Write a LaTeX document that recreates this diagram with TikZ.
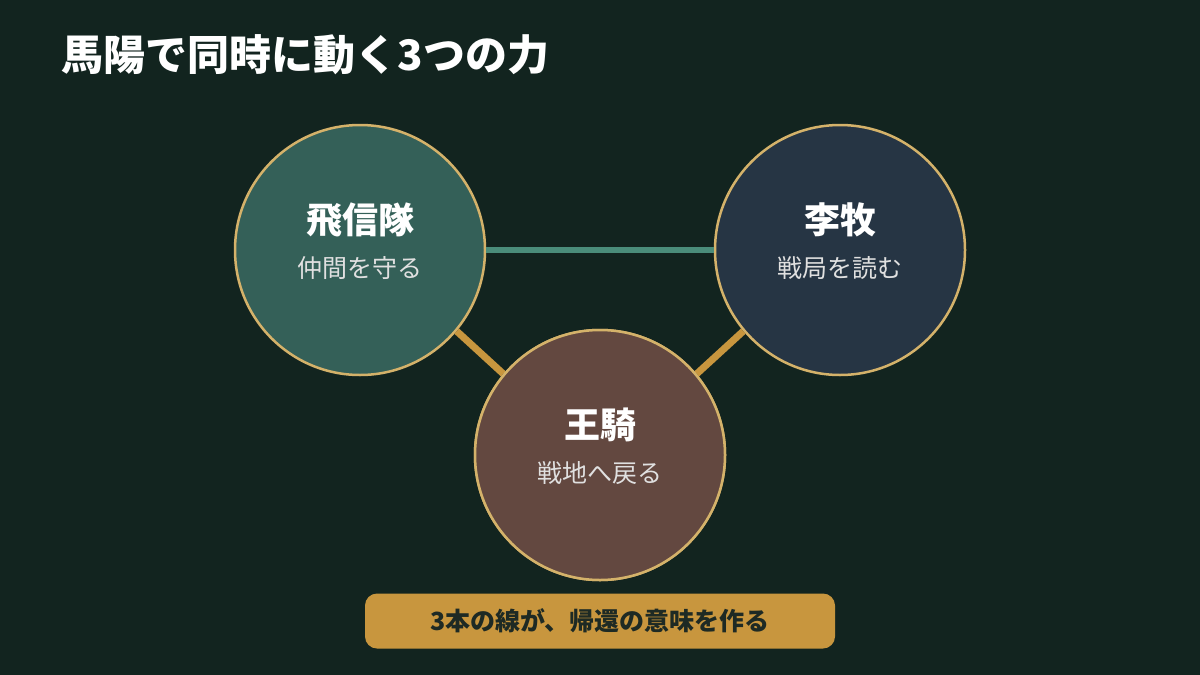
\documentclass[tikz,border=0pt]{standalone}
\usepackage{fontspec}
\newfontfamily\cjk{Noto Sans CJK JP}
\usetikzlibrary{positioning}
\definecolor{bgdark}{HTML}{12241F}
\definecolor{ringgold}{HTML}{D4B26A}
\definecolor{linkgold}{HTML}{C8963E}
\definecolor{linkteal}{HTML}{4A8C7A}
\definecolor{fillteal}{HTML}{346058}
\definecolor{fillslate}{HTML}{263544}
\definecolor{fillbrown}{HTML}{634840}
\definecolor{textdark}{HTML}{1E2A24}
\tikzset{
	force/.style={circle, draw=ringgold, line width=2.5pt, minimum size=250pt, inner sep=0pt},
	forcename/.style={text=white, font=\cjk\bfseries\fontsize{36}{40}\selectfont},
	forcenote/.style={text=white!88!black, font=\cjk\fontsize{25}{29}\selectfont},
	tealink/.style={linkteal, line width=6pt},
	goldlink/.style={linkgold, line width=7pt}
}
\begin{document}
\begin{tikzpicture}[x=1pt,y=-1pt]
	\fill[bgdark] (0,0) rectangle (1200,675);
	\useasboundingbox (0,0) rectangle (1200,675);
	
	\node[anchor=west, text=white, font=\cjk\bfseries\fontsize{42}{46}\selectfont] (title) at (58,55) {馬陽で同時に動く3つの力};
	
	% Three forces
	\node[force, fill=fillteal] (hishin) at (360,250) {};
	\node[force, fill=fillslate] (riboku) at (840,250) {};
	\node[force, fill=fillbrown] (ouki) at (600,455) {};
	
	\draw[tealink] (hishin.east) -- (riboku.west);
	\draw[goldlink] (hishin.-40) -- (ouki.140);
	\draw[goldlink] (riboku.220) -- (ouki.40);
	% redraw rings over link ends
	\node[force, fill=fillbrown] at (ouki) {};
	
	\node[forcename] (hishin-name) at (360,220) {飛信隊};
	\node[forcenote, below=12pt of hishin-name] (hishin-note) {仲間を守る};
	\node[forcename] (riboku-name) at (840,220) {李牧};
	\node[forcenote, below=12pt of riboku-name] (riboku-note) {戦局を読む};
	\node[forcename] (ouki-name) at (600,425) {王騎};
	\node[forcenote, below=12pt of ouki-name] (ouki-note) {戦地へ戻る};
	
	% Caption
	\node[fill=linkgold, rounded corners=12pt, minimum width=470pt, minimum height=55pt, text=textdark, font=\cjk\bfseries\fontsize{25}{29}\selectfont] (caption) at (600,621) {3本の線が、帰還の意味を作る};
\end{tikzpicture}
\end{document}
